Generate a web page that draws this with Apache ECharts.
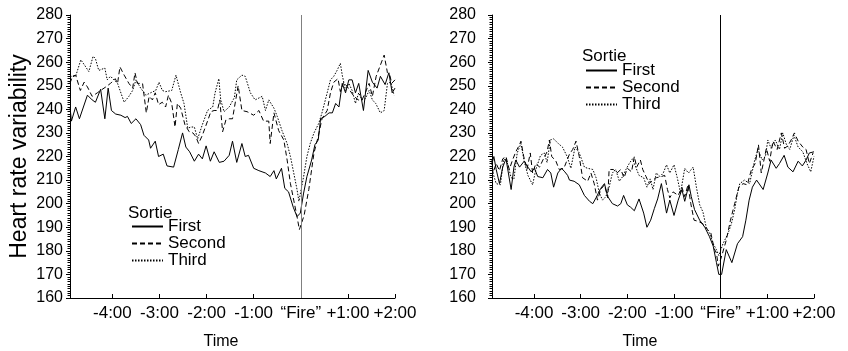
<!DOCTYPE html>
<html>
<head>
<meta charset="utf-8">
<script src="https://cdn.jsdelivr.net/npm/echarts@6/dist/echarts.min.js"></script>
<style>
  html, body { margin: 0; padding: 0; background: #fff; }
  #chart { width: 848px; height: 351px; }
</style>
</head>
<body>
<div id="chart"></div>
<script>
// time in minutes relative to "Fire", heart rate variability values
const leftFirst = [[-4.9,241],[-4.87,235],[-4.78,241],[-4.70,236],[-4.53,246],[-4.43,244],[-4.36,243],[-4.25,248.5],[-4.16,236],[-4.09,249],[-4.02,239.5],[-3.93,238],[-3.82,237.5],[-3.73,236.5],[-3.68,237],[-3.60,234],[-3.50,236],[-3.40,233.5],[-3.33,229],[-3.23,227],[-3.19,223.5],[-3.09,226.5],[-3.02,220],[-2.92,221],[-2.84,216],[-2.70,215.5],[-2.60,223],[-2.51,230],[-2.44,224],[-2.36,222],[-2.26,218],[-2.17,221],[-2.09,219],[-2.01,224.5],[-1.92,218],[-1.84,222],[-1.73,217.5],[-1.63,218],[-1.52,220.5],[-1.45,226.5],[-1.36,217.5],[-1.25,225.5],[-1.18,220],[-1.11,220.5],[-1.00,215],[-0.89,214],[-0.75,213],[-0.65,211.5],[-0.57,214],[-0.52,210.5],[-0.41,215],[-0.34,206.5],[-0.26,205],[-0.16,198.5],[-0.08,194.5],[-0.01,196],[0.06,204.5],[0.13,211.5],[0.23,218.5],[0.30,225],[0.37,227],[0.42,236],[0.51,237],[0.60,238.5],[0.67,238.5],[0.74,242.5],[0.81,241],[0.88,251],[0.95,247],[1.02,252.5],[1.09,252.5],[1.16,247],[1.23,251],[1.33,239.5],[1.43,256.5],[1.52,251.5],[1.62,249],[1.69,254],[1.79,250.5],[1.87,255.5],[1.94,247],[2.0,249]];
const leftSecond = [[-4.9,251],[-4.85,254],[-4.78,254.5],[-4.68,248],[-4.60,251.5],[-4.53,249.5],[-4.43,245.5],[-4.32,247],[-4.25,248],[-4.14,249.5],[-4.04,251],[-3.94,253],[-3.89,251],[-3.84,258],[-3.75,254.5],[-3.65,251],[-3.57,249],[-3.52,255.5],[-3.47,251],[-3.36,251],[-3.33,251.5],[-3.28,238.5],[-3.22,245.5],[-3.15,244],[-3.09,247],[-3.02,242],[-2.94,243],[-2.87,241],[-2.81,246],[-2.74,242.5],[-2.67,232.5],[-2.62,242.5],[-2.55,240.5],[-2.46,233.5],[-2.37,230.5],[-2.29,230],[-2.23,228.5],[-2.17,225.5],[-2.09,229],[-1.98,235],[-1.91,239],[-1.84,239.5],[-1.77,239.5],[-1.72,244],[-1.66,230.5],[-1.59,235.5],[-1.52,236],[-1.45,236],[-1.33,250],[-1.25,239.5],[-1.14,239],[-1.00,237.5],[-0.89,239.5],[-0.79,235],[-0.68,235],[-0.65,225.5],[-0.57,238.5],[-0.47,231],[-0.36,227],[-0.29,218.5],[-0.22,208.5],[-0.15,201.5],[-0.08,194.5],[-0.03,189],[0.07,195],[0.17,206],[0.28,221.5],[0.37,228.5],[0.45,236],[0.56,239.5],[0.63,247],[0.70,251.5],[0.79,253],[0.84,247.5],[0.91,251.5],[0.99,249.5],[1.13,245.5],[1.22,244],[1.30,244],[1.37,247],[1.45,251],[1.52,245.5],[1.60,254],[1.77,263],[1.84,255.5],[1.89,254.5],[1.93,251],[2.0,252.5]];
const leftThird = [[-4.9,254],[-4.78,254],[-4.67,261],[-4.60,259],[-4.50,256],[-4.41,262.5],[-4.36,261.5],[-4.29,256.5],[-4.16,257.5],[-4.11,252.5],[-4.04,254],[-3.89,251],[-3.75,243],[-3.65,245.5],[-3.57,248],[-3.50,252.5],[-3.40,249],[-3.29,246],[-3.19,247],[-3.08,248],[-3.01,251.5],[-2.94,248],[-2.87,247.5],[-2.74,248],[-2.65,254.5],[-2.55,247],[-2.48,242.5],[-2.40,232],[-2.33,232.5],[-2.26,232.5],[-2.19,227.5],[-2.09,233.5],[-1.98,239.5],[-1.87,241],[-1.82,247],[-1.74,253],[-1.70,244],[-1.63,239],[-1.52,241],[-1.41,245],[-1.36,252.5],[-1.25,254.5],[-1.18,254],[-1.07,247],[-0.97,244],[-0.82,245.5],[-0.75,239.5],[-0.68,244],[-0.57,240.5],[-0.50,237],[-0.40,231],[-0.29,225.5],[-0.22,220],[-0.15,213],[-0.08,206],[-0.04,201],[0.06,211.5],[0.13,220],[0.20,225.5],[0.28,230],[0.38,234],[0.45,238.5],[0.56,247],[0.63,252.5],[0.70,254],[0.77,256.5],[0.84,259.5],[0.88,254.5],[0.95,248],[1.02,251],[1.09,248],[1.16,242.5],[1.23,247],[1.30,244],[1.37,244.5],[1.45,248],[1.52,244],[1.59,242.5],[1.69,238.5],[1.77,239.5],[1.84,251],[1.91,251.5],[1.98,246]];

const rightFirst = [[-4.9,217],[-4.86,220],[-4.81,214.5],[-4.74,208.5],[-4.67,215.5],[-4.60,219],[-4.49,206],[-4.43,215.5],[-4.39,218.5],[-4.31,215.5],[-4.21,218],[-4.13,215.5],[-4.06,213.5],[-3.99,215],[-3.92,211.5],[-3.81,211],[-3.71,214.5],[-3.64,213],[-3.58,207],[-3.49,213],[-3.41,215],[-3.34,213.5],[-3.28,212],[-3.24,210],[-3.14,209.5],[-3.03,208],[-2.92,203.5],[-2.81,201],[-2.74,200],[-2.67,202.5],[-2.57,206.5],[-2.49,208.5],[-2.42,203],[-2.32,200],[-2.21,199],[-2.14,200],[-2.08,203.5],[-2.00,199.5],[-1.93,198.5],[-1.85,197],[-1.75,202],[-1.65,196],[-1.58,190],[-1.50,193],[-1.42,198],[-1.35,202],[-1.27,208.5],[-1.16,196],[-1.09,201.5],[-1.00,195],[-0.91,201.5],[-0.83,206],[-0.77,201],[-0.68,208],[-0.63,203],[-0.56,197.5],[-0.45,193],[-0.34,190],[-0.24,186],[-0.16,182],[-0.09,175],[-0.04,170],[0.02,170],[0.12,180.5],[0.24,175],[0.36,183],[0.47,186],[0.54,193],[0.61,201.5],[0.68,207],[0.77,210],[0.91,206],[1.01,213],[1.08,218.5],[1.19,215],[1.26,217],[1.36,220.5],[1.44,215.5],[1.55,213.5],[1.66,218],[1.75,216],[1.83,218.5],[1.90,221.5],[2.0,222]];
const rightSecond = [[-4.9,218.5],[-4.88,213],[-4.81,217],[-4.74,214],[-4.67,219],[-4.60,220],[-4.53,214.5],[-4.46,218.5],[-4.39,222],[-4.31,225],[-4.28,226.5],[-4.22,220],[-4.15,214.5],[-4.08,221.5],[-4.03,213],[-3.96,217],[-3.88,215.5],[-3.81,218.5],[-3.72,222],[-3.67,227],[-3.62,220],[-3.53,218],[-3.46,214.5],[-3.36,215],[-3.29,218.5],[-3.24,221],[-3.17,223],[-3.10,226.5],[-3.03,220],[-2.96,211],[-2.85,209.5],[-2.78,213],[-2.71,208.5],[-2.64,201.5],[-2.57,206],[-2.49,208],[-2.42,202.5],[-2.39,214.5],[-2.30,214.5],[-2.22,213],[-2.14,214.5],[-2.07,211],[-2.00,215],[-1.91,213.5],[-1.85,220],[-1.80,215.5],[-1.72,218.5],[-1.67,214.5],[-1.60,211.5],[-1.53,208.5],[-1.46,210],[-1.38,211],[-1.27,211.5],[-1.20,212],[-1.14,206],[-1.09,202.5],[-1.02,205],[-0.91,203.5],[-0.83,207],[-0.77,203],[-0.70,208],[-0.64,200],[-0.57,193],[-0.48,192.5],[-0.38,191.5],[-0.28,189],[-0.21,187.5],[-0.14,181],[-0.09,179],[-0.05,173.5],[0.01,177],[0.12,184.5],[0.21,193],[0.30,200],[0.39,207],[0.48,208.5],[0.57,208],[0.66,214.5],[0.74,217],[0.81,225],[0.87,213],[0.98,223.5],[1.05,218],[1.12,226.5],[1.21,223],[1.30,230],[1.37,223.5],[1.44,224.5],[1.51,227],[1.58,230],[1.66,226.5],[1.76,224],[1.83,223],[1.90,217],[1.98,221.5]];
const rightThird = [[-4.9,217],[-4.88,213],[-4.81,208.5],[-4.72,208],[-4.65,219],[-4.58,218],[-4.49,211],[-4.43,210.5],[-4.36,221.5],[-4.28,225.5],[-4.21,218],[-4.13,212],[-4.03,208],[-3.96,214.5],[-3.86,220.5],[-3.78,221.5],[-3.72,217.5],[-3.65,227],[-3.58,227.5],[-3.48,225.5],[-3.39,224],[-3.29,220],[-3.21,215],[-3.12,224],[-3.03,221.5],[-2.92,215.5],[-2.85,215],[-2.74,214.5],[-2.67,211],[-2.60,204.5],[-2.53,201.5],[-2.46,203],[-2.39,207],[-2.32,213],[-2.25,214.5],[-2.17,209.5],[-2.10,211.5],[-2.03,214.5],[-1.96,217],[-1.89,219],[-1.82,215.5],[-1.75,212],[-1.65,211],[-1.58,207],[-1.51,210.5],[-1.45,206],[-1.38,213],[-1.30,211.5],[-1.23,213],[-1.16,216.5],[-1.09,213],[-1.00,216.5],[-0.93,211],[-0.86,204.5],[-0.77,215],[-0.69,213],[-0.59,215.5],[-0.52,207],[-0.45,199.5],[-0.38,196.5],[-0.31,190],[-0.24,187.5],[-0.16,183],[-0.09,180.5],[-0.04,178],[0.05,183],[0.16,187.5],[0.23,191.5],[0.30,197.5],[0.36,204.5],[0.41,208.5],[0.51,210],[0.62,208.5],[0.73,218.5],[0.80,223],[0.89,218.5],[0.96,220],[1.01,227],[1.08,223.5],[1.17,227],[1.26,223],[1.33,230],[1.41,225],[1.48,223],[1.57,229],[1.66,224],[1.76,222],[1.85,217],[1.93,213.5],[2.0,220]];

const sortieNames = ['First', 'Second', 'Third'];
const xTickValues = [-4, -3, -2, -1, 0, 1, 2];
const xTickLabels = ['-4:00', '-3:00', '-2:00', '-1:00', '\u201CFire\u201D', '+1:00', '+2:00'];

const FONT = '"Liberation Sans", Arial, sans-serif';
const lineTypes = ['solid', [5, 3], [1.5, 1.5]];

const chart = echarts.init(document.getElementById('chart'));

function makeXAxis(gridIndex, padRight) {
  return {
    type: 'value',
    gridIndex: gridIndex,
    min: -4.9,
    max: 2,
    name: 'Time',
    nameLocation: 'middle',
    nameGap: 44,
    nameMoveOverlap: false,
    nameTextStyle: { fontFamily: FONT, fontSize: 16, color: '#000', verticalAlign: 'middle', padding: [0, padRight, 0, 0] },
    axisLine: { onZero: false, lineStyle: { color: '#000', width: 1 } },
    axisTick: { inside: true, length: 4, customValues: xTickValues, lineStyle: { color: '#000' } },
    axisLabel: {
      customValues: xTickValues,
      fontFamily: FONT,
      fontSize: 17,
      color: '#000',
      margin: 7,
      formatter: (v) => xTickLabels[xTickValues.indexOf(Math.round(v))]
    },
    splitLine: { show: false }
  };
}

function makeYAxis(gridIndex, title, labelMargin) {
  return {
    type: 'value',
    gridIndex: gridIndex,
    min: 160,
    max: 280,
    interval: 10,
    name: title,
    nameLocation: 'middle',
    nameGap: 39,
    nameTextStyle: { fontFamily: FONT, fontSize: 23, color: '#000' },
    axisLine: { show: true, onZero: false, lineStyle: { color: '#000', width: 1 } },
    axisTick: { show: true, length: 4, lineStyle: { color: '#000' } },
    minorTick: { show: true, splitNumber: 10, length: 2.5, lineStyle: { color: '#000' } },
    axisLabel: { fontFamily: FONT, fontSize: 16, color: '#000', margin: labelMargin },
    splitLine: { show: false }
  };
}

function makeSeries(name, data, idx, panel, fireColor) {
  const s = {
    name: name,
    type: 'line',
    xAxisIndex: panel,
    yAxisIndex: panel,
    data: data,
    symbol: 'none',
    lineStyle: { color: '#000', width: 1, type: lineTypes[idx] },
    itemStyle: { color: '#000' }
  };
  // vertical "Fire" reference line
  if (idx === 0) {
    s.markLine = {
      silent: true,
      symbol: 'none',
      label: { show: false },
      lineStyle: { color: fireColor, width: 1, type: 'solid' },
      data: [{ xAxis: 0 }]
    };
  }
  return s;
}

const legendBase = {
  orient: 'vertical',
  data: sortieNames,
  itemWidth: 31,
  itemHeight: 10,
  itemGap: 0,
  itemStyle: { opacity: 0 },
  selectedMode: false,
  textStyle: { fontFamily: FONT, fontSize: 17, color: '#000', lineHeight: 12, padding: [4, 0, 0, 0] },
  padding: 0
};

const titleStyle = { fontFamily: FONT, fontSize: 17, fontWeight: 'normal', color: '#000' };

const option = {
  animation: false,
  backgroundColor: '#fff',
  grid: [
    { left: 70, top: 15, width: 325, height: 283, containLabel: false, outerBoundsMode: 'none' },
    { left: 492, top: 15, width: 322, height: 283, containLabel: false, outerBoundsMode: 'none' }
  ],
  title: [
    { text: 'Sortie', left: 128, top: 205, padding: 0, textStyle: titleStyle },
    { text: 'Sortie', left: 582, top: 48, padding: 0, textStyle: titleStyle }
  ],
  legend: [
    Object.assign({}, legendBase, { left: 131, top: 218 }),
    Object.assign({}, legendBase, { left: 585, top: 62 })
  ],
  xAxis: [makeXAxis(0, 23), makeXAxis(1, 26)],
  yAxis: [makeYAxis(0, 'Heart rate variability', 7), makeYAxis(1, '', 16)],
  series: [
    makeSeries('First', leftFirst, 0, 0, '#808080'),
    makeSeries('Second', leftSecond, 1, 0),
    makeSeries('Third', leftThird, 2, 0),
    makeSeries('First', rightFirst, 0, 1, '#000'),
    makeSeries('Second', rightSecond, 1, 1),
    makeSeries('Third', rightThird, 2, 1)
  ]
};

chart.setOption(option);
</script>
</body>
</html>
